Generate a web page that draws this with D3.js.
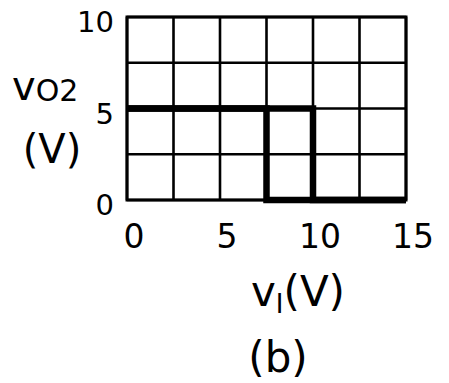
<!DOCTYPE html>
<html>
<head>
<meta charset="utf-8">
<script src="https://cdn.jsdelivr.net/npm/d3@7"></script>
<style>
  html, body { margin: 0; padding: 0; background: #fff; }
  svg text { font-family: "DejaVu Sans", sans-serif; fill: #000; }
</style>
</head>
<body>
<svg id="chart" width="449" height="383"></svg>
<script>
// Axis ticks and grid divisions (volts)
const xTicks = [0, 5, 10, 15];
const yTicks = [0, 5, 10];
const gridX = [0, 2.5, 5, 7.5, 10, 12.5, 15];
const gridY = [0, 2.5, 5, 7.5, 10];

// Transfer characteristic v_O2 vs v_I (hysteresis loop)
const risingVI  = [0, 10, 10, 15];
const risingVO  = [5, 5, 0, 0];
const fallingVI = [15, 7.5, 7.5, 0];
const fallingVO = [0, 0, 5, 5];

const svg = d3.select("#chart");
const x = d3.scaleLinear().domain([0, 15]).range([127, 406]);
const y = d3.scaleLinear().domain([0, 10]).range([200, 17]);

// grid
const g = svg.append("g").attr("stroke", "#000").attr("stroke-width", 2.6).attr("fill", "none");
g.selectAll("line.gx").data(gridX).join("line")
  .attr("x1", d => x(d)).attr("x2", d => x(d))
  .attr("y1", y(10)).attr("y2", y(0));
g.selectAll("line.gy").data(gridY).join("line")
  .attr("x1", x(0)).attr("x2", x(15))
  .attr("y1", d => y(d)).attr("y2", d => y(d));
g.append("rect")
  .attr("x", x(0)).attr("y", y(10))
  .attr("width", x(15) - x(0)).attr("height", y(0) - y(10))
  .attr("stroke-width", 3);

// characteristic
const line = d3.line().x(d => x(d[0])).y(d => y(d[1]));
[[risingVI, risingVO], [fallingVI, fallingVO]].forEach(([vi, vo]) => {
  svg.append("path")
    .attr("d", line(vi.map((v, i) => [v, vo[i]])))
    .attr("fill", "none").attr("stroke", "#000")
    .attr("stroke-width", 6.5).attr("stroke-linejoin", "miter");
});

// x tick labels
svg.selectAll("text.xt").data(xTicks).join("text")
  .attr("class", "xt")
  .attr("x", d => x(d) + 7).attr("y", 248)
  .attr("text-anchor", "middle").attr("font-size", 33)
  .text(d => d);

// y tick labels
svg.selectAll("text.yt").data(yTicks).join("text")
  .attr("class", "yt")
  .attr("x", 114).attr("y", d => y(d) + 15)
  .attr("text-anchor", "end").attr("font-size", 29)
  .text(d => d);

// y axis title
const yt = svg.append("text").attr("x", 12).attr("y", 100).attr("font-size", 40);
yt.append("tspan").text("v");
yt.append("tspan").attr("font-size", 30).attr("dy", 1).text("O2");
svg.append("text").attr("x", 52).attr("y", 163).attr("text-anchor", "middle")
  .attr("font-size", 40).text("(V)");

// x axis title
const xt = svg.append("text").attr("x", 298).attr("y", 306).attr("text-anchor", "middle").attr("font-size", 42);
xt.append("tspan").text("v");
xt.append("tspan").attr("font-size", 26).attr("dy", 7).text("I");
xt.append("tspan").attr("dy", -7).text("(V)");

// panel label
svg.append("text").attr("x", 278).attr("y", 372).attr("text-anchor", "middle")
  .attr("font-size", 42).text("(b)");
</script>
</body>
</html>
